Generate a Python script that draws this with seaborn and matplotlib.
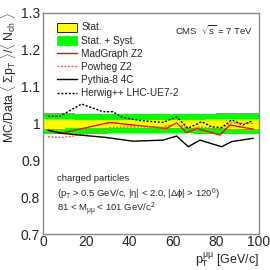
import numpy as np
import pandas as pd
import matplotlib
matplotlib.use("Agg")
import matplotlib.pyplot as plt
import seaborn as sns
from matplotlib.patches import Patch
from matplotlib.lines import Line2D
from matplotlib.ticker import MultipleLocator

# ---- data ----
bin_edges = [0, 5, 10, 15, 20, 25, 30, 35, 40, 45, 50, 55, 60, 65, 70, 75, 80, 85, 90, 95, 100]
stat_lo = [0.986, 0.986, 0.987, 0.987, 0.987, 0.987, 0.987, 0.988, 0.988, 0.988, 0.988, 0.988, 0.988, 0.987, 0.987, 0.987, 0.987, 0.986, 0.986, 0.986]
stat_hi = [1.011, 1.011, 1.011, 1.010, 1.010, 1.010, 1.010, 1.010, 1.009, 1.009, 1.009, 1.009, 1.010, 1.010, 1.010, 1.011, 1.011, 1.011, 1.011, 1.012]
syst_lo = [0.971, 0.971, 0.972, 0.972, 0.972, 0.972, 0.973, 0.973, 0.973, 0.973, 0.973, 0.973, 0.973, 0.973, 0.972, 0.972, 0.972, 0.972, 0.971, 0.971]
syst_hi = [1.028, 1.028, 1.028, 1.027, 1.027, 1.027, 1.027, 1.026, 1.026, 1.026, 1.026, 1.026, 1.027, 1.027, 1.027, 1.027, 1.028, 1.028, 1.028, 1.029]

mad_x = [2.3, 7.9, 21.8, 31.0, 44.9, 57.3, 61.9, 66.5, 71.2, 81.9, 86.6, 91.2, 97.4]
mad_y = [0.982, 0.973, 0.991, 1.003, 0.994, 0.987, 1.002, 0.975, 0.987, 0.969, 0.996, 0.991, 0.985]

pow_x = [2.3, 9.3, 21.8, 31.0, 44.9, 55.6, 61.9, 68.1, 72.7, 81.9, 87.4, 97.4]
pow_y = [0.964, 0.962, 0.973, 0.989, 0.991, 0.990, 1.000, 0.984, 0.991, 0.984, 1.002, 1.000]

pyt_x = [2.3, 9.3, 29.5, 41.7, 55.6, 61.9, 67.3, 72.7, 82.7, 87.4, 97.4]
pyt_y = [0.982, 0.973, 0.962, 0.952, 0.955, 0.966, 0.937, 0.955, 0.937, 0.951, 0.960]

her_x = [2.3, 7.9, 17.9, 27.8, 32.4, 36.6, 44.9, 55.6, 61.9, 67.1, 73.5, 78.1, 82.7, 87.4, 92.6, 97.2]
her_y = [1.020, 1.020, 1.053, 1.032, 1.032, 1.017, 1.008, 1.003, 1.018, 0.987, 1.005, 0.991, 0.989, 1.010, 0.996, 1.008]

labels = ["Stat.", "Stat. + Syst.", "MadGraph Z2", "Powheg Z2", "Pythia-8 4C", "Herwig++ LHC-UE7-2"]

# ---- plot ----
sns.set_theme(style="white")
plt.rcParams['font.family'] = ['Liberation Sans', 'DejaVu Sans']
plt.rcParams['mathtext.fontset'] = 'custom'
plt.rcParams['mathtext.rm'] = 'Liberation Sans'
plt.rcParams['mathtext.it'] = 'Liberation Sans'

fig = plt.figure(figsize=(2.7, 2.7), dpi=100)
ax = fig.add_axes([0.159, 0.133, 0.8, 0.819])

def steps(vals):
    return list(vals) + [vals[-1]]

ax.fill_between(bin_edges, steps(syst_lo), steps(syst_hi), step="post", color="#00ff00", lw=0, zorder=1)
ax.fill_between(bin_edges, steps(stat_lo), steps(stat_hi), step="post", color="#ffff00", lw=0, zorder=2)

df = pd.concat([
    pd.DataFrame({"x": mad_x, "y": mad_y, "m": labels[2]}),
    pd.DataFrame({"x": pow_x, "y": pow_y, "m": labels[3]}),
    pd.DataFrame({"x": pyt_x, "y": pyt_y, "m": labels[4]}),
    pd.DataFrame({"x": her_x, "y": her_y, "m": labels[5]}),
])
colors = {labels[2]: "#ff0000", labels[3]: "#e06666", labels[4]: "#000000", labels[5]: "#000000"}
styles = {labels[2]: "", labels[3]: (1.5, 1), labels[4]: "", labels[5]: (1.5, 1.2)}
sns.lineplot(data=df, x="x", y="y", hue="m", style="m", palette=colors, dashes=styles,
             ax=ax, legend=False, lw=1.0, zorder=3, sort=False)

ax.set_xlim(0, 100)
ax.set_ylim(0.7, 1.3)
ax.xaxis.set_major_locator(MultipleLocator(20))
ax.xaxis.set_minor_locator(MultipleLocator(4))
ax.yaxis.set_major_locator(MultipleLocator(0.1))
ax.yaxis.set_minor_locator(MultipleLocator(0.02))
ax.set_yticks([0.7, 0.8, 0.9, 1.0, 1.1, 1.2, 1.3])
ax.set_yticklabels(["0.7", "0.8", "0.9", "1", "1.1", "1.2", "1.3"])
ax.tick_params(which="major", direction="in", length=5, width=0.8, labelsize=10, pad=2, color="#555555")
ax.tick_params(axis="x", which="major", pad=1)
ax.tick_params(which="minor", direction="in", length=2.5, width=0.8, color="#555555")
for s in ax.spines.values():
    s.set_color("#888888")
    s.set_linewidth(1.0)

ax.set_xlabel("")
ax.set_ylabel("")
fig.text(0.035, 0.955, r"MC/Data $\langle\ \Sigma p_T\ \rangle / \langle\ N_{ch}\ \rangle$",
         rotation=90, ha="center", va="top", fontsize=8.8)
fig.text(0.962, 0.0, r"$p_T^{\mu\mu}$ [GeV/c]", ha="right", va="bottom", fontsize=9.0)

handles = [
    Patch(facecolor="#ffff00", edgecolor="black", lw=0.6),
    Patch(facecolor="#00ff00", edgecolor="#00ff00", lw=0.6),
    Line2D([], [], color="#ff0000", lw=1.0),
    Line2D([], [], color="#e06666", lw=1.0, ls=(0, (1.5, 1))),
    Line2D([], [], color="black", lw=1.0),
    Line2D([], [], color="black", lw=1.0, ls=(0, (1.5, 1.2))),
]
ax.legend(handles, labels, loc="upper left", bbox_to_anchor=(0.045, 0.975), frameon=False,
          fontsize=7.2, handlelength=2.0, handleheight=1.0, labelspacing=0.32, handletextpad=0.45,
          borderaxespad=0)

ax.text(0.97, 0.955, r"CMS  $\sqrt{s}$ = 7 TeV", transform=ax.transAxes, ha="right", va="top", fontsize=6.8)
ax.text(0.065, 0.25, "charged particles", transform=ax.transAxes, fontsize=6.8, va="center")
ax.text(0.065, 0.18, r"(p$_T$ > 0.5 GeV/c, |$\eta$| < 2.0, |$\Delta\phi$| > 120$^0$)", transform=ax.transAxes,
        fontsize=6.8, va="center")
ax.text(0.065, 0.11, r"81 < M$_{\mu\mu}$ < 101 GeV/c$^2$", transform=ax.transAxes, fontsize=6.8, va="center")

fig.savefig("out.png", dpi=100)
